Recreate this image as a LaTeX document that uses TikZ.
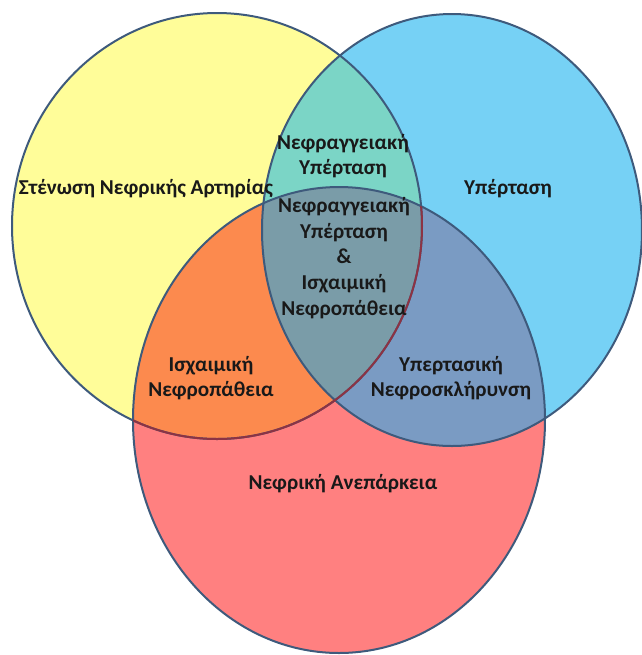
\documentclass[tikz,border=0pt]{standalone}
\usepackage{fontspec}
\setmainfont{Carlito}

\definecolor{yellowfill}{HTML}{FFFD99}
\definecolor{bluefill}{HTML}{76D1F5}
\definecolor{redfill}{HTML}{FF8080}
\definecolor{tealfill}{HTML}{7BD5C6}
\definecolor{orangefill}{HTML}{FC8A4E}
\definecolor{slatefill}{HTML}{7A9BC3}
\definecolor{greyfill}{HTML}{7A9CA8}
\definecolor{ringcol}{HTML}{3E5A7C}
\definecolor{ringred}{HTML}{8C3344}

\tikzset{
	ring/.style={draw=ringcol, line width=1pt},
	label/.style={font=\fontsize{10.6}{12.8}\selectfont\bfseries, text=black!90, align=center, inner sep=0pt}
}

\begin{document}
\begin{tikzpicture}[x=0.5pt,y=-0.5pt]
	\useasboundingbox (0,0) rectangle (642,655);
	\def\yellowset{(217,226) ellipse [x radius=205, y radius=213]}
	\def\blueset{(452,230) ellipse [x radius=190, y radius=216]}
	\def\redset{(339,420) ellipse [x radius=206, y radius=233]}

	\fill[yellowfill] \yellowset;
	\fill[bluefill] \blueset;
	\fill[redfill] \redset;
	\begin{scope}
		\clip \yellowset;
		\fill[tealfill] \blueset;
		\fill[orangefill] \redset;
	\end{scope}
	\begin{scope}
		\clip \blueset;
		\fill[slatefill] \redset;
	\end{scope}
	\begin{scope}
		\clip \yellowset;
		\clip \blueset;
		\fill[greyfill] \redset;
	\end{scope}

	\draw[ring] \yellowset;
	\draw[ring] \blueset;
	\draw[ring] \redset;
	\begin{scope}
		\clip \redset;
		\draw[ring, draw=ringred] \yellowset;
	\end{scope}

	\node[label] (stenosis) at (146,189) {Στένωση Νεφρικής Αρτηρίας};
	\node[label] (hypertension) at (508,189) {Υπέρταση};
	\node[label] (renovascular) at (343,156) {Νεφραγγειακή\\Υπέρταση};
	\node[label] (centre) at (344,258) {Νεφραγγειακή\\Υπέρταση\\\&\\Ισχαιμική\\Νεφροπάθεια};
	\node[label] (ischemic) at (211,378) {Ισχαιμική\\Νεφροπάθεια};
	\node[label] (sclerosis) at (451,378) {Υπερτασική\\Νεφροσκλήρυνση};
	\node[label] (failure) at (343,484) {Νεφρική Ανεπάρκεια};
\end{tikzpicture}
\end{document}
